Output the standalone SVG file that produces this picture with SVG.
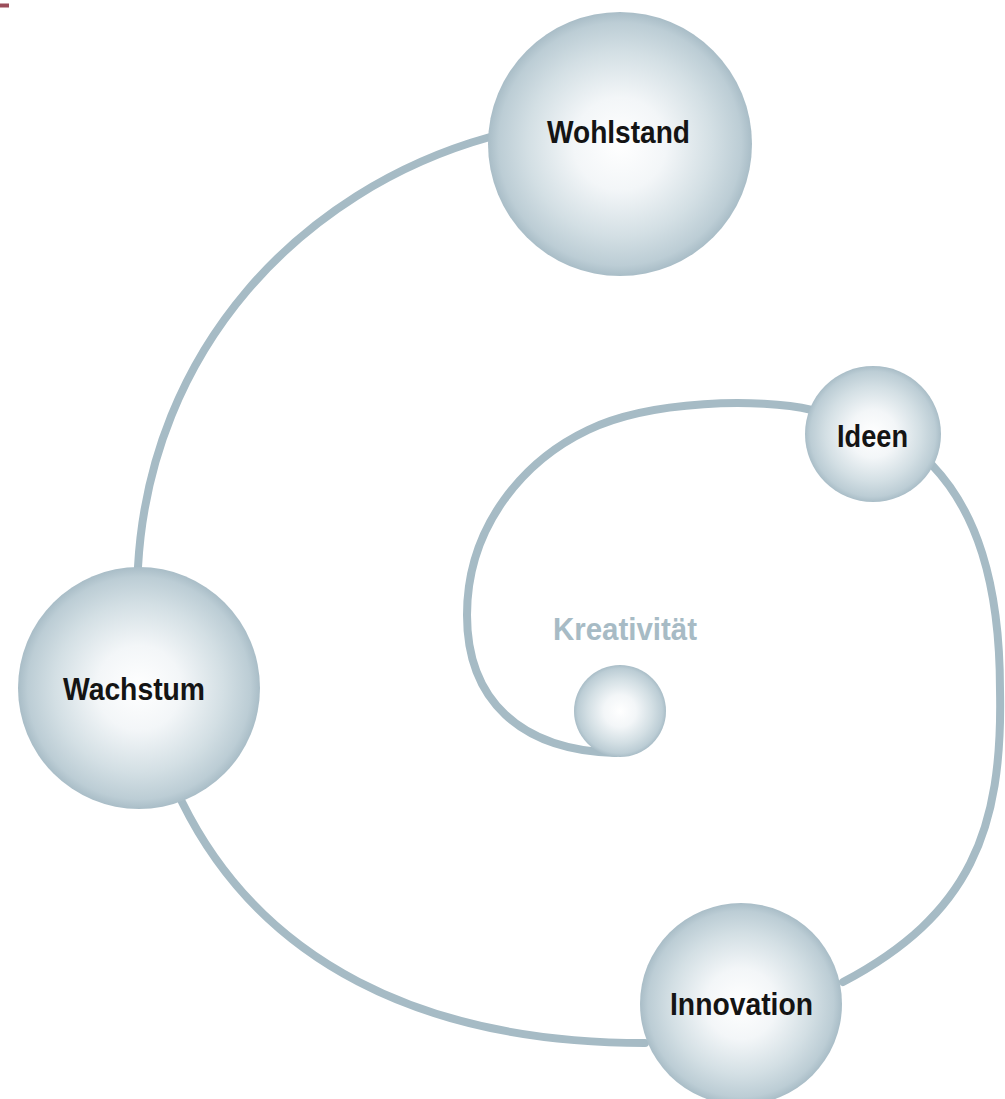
<svg xmlns="http://www.w3.org/2000/svg" width="1005" height="1099" viewBox="0 0 1005 1099">
<style>
.conn{fill:none;stroke:#a6bbc5;stroke-width:8;stroke-linecap:round}
.lbl{font-family:"Liberation Sans",Arial,sans-serif;font-weight:bold;font-size:31px;fill:#141414;text-anchor:middle}
.klbl{font-family:"Liberation Sans",Arial,sans-serif;font-weight:bold;font-size:31px;fill:#a7bbc5;text-anchor:middle}
.sph{fill:url(#sg)}
</style>
<defs>
<radialGradient id="sg" cx="0.5" cy="0.5" r="0.5">
<stop offset="0" stop-color="#ffffff"/>
<stop offset="0.35" stop-color="#f3f6f8"/>
<stop offset="0.7" stop-color="#d3dfe4"/>
<stop offset="0.92" stop-color="#bccdd5"/>
<stop offset="1" stop-color="#a9bdc7"/>
</radialGradient>
</defs>
<rect x="0" y="3.5" width="9" height="4" fill="#9b4d5a"/>
<g id="connectors">
<path class="conn" d="M 138 567 C 150 350, 300 190, 490 137"/>
<path class="conn" d="M 182 802 C 260 960, 420 1043, 645 1043"/>
<path class="conn" d="M 932 465 C 975 510, 1000 580, 1000 690 C 1003 830, 970 915, 843 982"/>
<path class="conn" d="M 812 410 C 760 398, 650 400, 588 430 C 525 460, 467 525, 467 615 C 467 700, 520 750, 615 753"/>
</g>
<g id="wohlstand">
<circle class="sph" cx="620" cy="144" r="132"/>
<text class="lbl" x="618.5" y="143" textLength="143" lengthAdjust="spacingAndGlyphs">Wohlstand</text>
</g>
<g id="ideen">
<circle class="sph" cx="873" cy="434" r="68"/>
<text class="lbl" x="872.5" y="447" textLength="71" lengthAdjust="spacingAndGlyphs">Ideen</text>
</g>
<g id="wachstum">
<circle class="sph" cx="139" cy="688" r="121"/>
<text class="lbl" x="134" y="700" textLength="142" lengthAdjust="spacingAndGlyphs">Wachstum</text>
</g>
<g id="innovation">
<circle class="sph" cx="741" cy="1004" r="101"/>
<text class="lbl" x="741.5" y="1015" textLength="143" lengthAdjust="spacingAndGlyphs">Innovation</text>
</g>
<g id="kreativitaet">
<circle class="sph" cx="620" cy="711" r="46"/>
<text class="klbl" x="625" y="640" textLength="144" lengthAdjust="spacingAndGlyphs">Kreativität</text>
</g>
</svg>
